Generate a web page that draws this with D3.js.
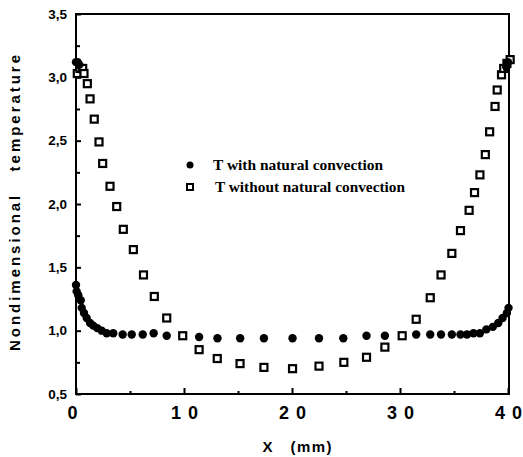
<!DOCTYPE html>
<html><head><meta charset="utf-8">
<script src="https://cdn.jsdelivr.net/npm/d3@7"></script>
<style>body{margin:0;background:#fff}svg{display:block}</style>
</head><body>
<script>
// Data
const withConvX = [0,0.15,0.3,0,0.06,0.21,0.44,0.53,0.74,0.99,1.3,1.6,1.97,2.38,2.84,3.45,4.32,5.16,6.18,7.19,8.4,11.4,13.1,15.2,17.4,20.05,22.5,24.75,26.9,28.6,31.5,32.8,33.8,34.8,35.6,36.2,36.8,37.4,38.0,38.6,39.1,39.5,39.9,40.05,39.85,40.0];
const withConvY = [3.12,3.12,3.10,1.36,1.31,1.28,1.24,1.18,1.14,1.10,1.06,1.04,1.02,1.00,0.98,0.98,0.97,0.97,0.97,0.98,0.96,0.95,0.94,0.94,0.94,0.94,0.94,0.94,0.96,0.96,0.97,0.97,0.97,0.97,0.97,0.97,0.98,0.98,1.01,1.03,1.06,1.10,1.14,1.18,3.08,3.12];
const withoutConvX = [0.12,0.37,0.62,0.74,1.05,1.3,1.69,2.13,2.47,3.15,3.77,4.38,5.31,6.25,7.25,8.4,9.88,11.4,13.08,15.19,17.4,20.05,22.5,24.8,26.9,28.6,30.2,31.5,32.8,33.8,34.8,35.6,36.4,36.9,37.4,37.9,38.3,38.8,39.0,39.4,39.6,39.9,40.2];
const withoutConvY = [3.03,3.07,3.07,3.03,2.95,2.83,2.67,2.49,2.32,2.14,1.98,1.80,1.64,1.44,1.27,1.10,0.96,0.85,0.78,0.74,0.71,0.70,0.72,0.75,0.79,0.87,0.96,1.09,1.26,1.44,1.61,1.79,1.95,2.09,2.23,2.39,2.57,2.77,2.90,3.02,3.07,3.11,3.14];
const xMajorTicks = [0,10,20,30,40];
const xMinorTicks = [5,15,25,35];
const yMajorTicks = [0.5,1.0,1.5,2.0,2.5,3.0,3.5];
const yMinorTicks = [0.75,1.25,1.75,2.25,2.75,3.25];
const legendLabels = ["T with natural convection","T without natural convection"];
const xTitle = "X   (mm)";
const yTitle = "Nondimensional   temperature";

const W = 523, H = 457;
const svg = d3.select("body").append("svg").attr("width", W).attr("height", H);
const x = d3.scaleLinear().domain([0,40]).range([76,508]);
const y = d3.scaleLinear().domain([0.5,3.5]).range([394,14]);
const sans = "'Liberation Sans', Arial, sans-serif";
const serif = "'Liberation Serif', 'Times New Roman', serif";

// frame
svg.append("rect").attr("x", x(0)).attr("y", y(3.5)).attr("width", x(40)-x(0)+1).attr("height", y(0.5)-y(3.5))
  .attr("fill","none").attr("stroke","#000").attr("stroke-width",2);

// x axis
const gx = svg.append("g").attr("transform",`translate(0,${y(0.5)})`);
gx.call(d3.axisBottom(x).tickValues(xMajorTicks).tickSize(-6).tickPadding(12).tickFormat(d => String(d).split("").join("\u2009\u2009")));
const gx2 = svg.append("g").attr("transform",`translate(0,${y(0.5)})`);
gx2.call(d3.axisBottom(x).tickValues(xMinorTicks).tickSize(-3).tickFormat(""));
[gx,gx2].forEach(g => { g.select(".domain").remove(); g.selectAll("line").attr("stroke","#000").attr("stroke-width",2); });
gx.selectAll("text").attr("font-family",sans).attr("font-weight","bold").attr("font-size",18).attr("fill","#000");
gx.selectAll(".tick").filter(d => d===0).select("text").attr("dx",-4);

// y axis
const gy = svg.append("g").attr("transform",`translate(${x(0)},0)`);
gy.call(d3.axisLeft(y).tickValues(yMajorTicks).tickSize(-5).tickPadding(9).tickFormat(d => d3.format(".1f")(d).replace(".",",")));
const gy2 = svg.append("g").attr("transform",`translate(${x(0)},0)`);
gy2.call(d3.axisLeft(y).tickValues(yMinorTicks).tickSize(-4).tickFormat(""));
[gy,gy2].forEach(g => { g.select(".domain").remove(); g.selectAll("line").attr("stroke","#000").attr("stroke-width",2); });
gy.selectAll("text").attr("font-family",sans).attr("font-weight","bold").attr("font-size",13.5).attr("fill","#000");

// titles
svg.append("text").attr("x",297).attr("y",452).attr("text-anchor","middle")
  .attr("font-family",sans).attr("font-weight","bold").attr("font-size",15).attr("textLength",69).attr("lengthAdjust","spacing")
  .style("white-space","pre").text(xTitle);
svg.append("text").attr("transform","translate(20,203) rotate(-90)").attr("text-anchor","middle")
  .attr("font-family",sans).attr("font-weight","bold").attr("font-size",15).attr("textLength",296).attr("lengthAdjust","spacing")
  .style("white-space","pre").text(yTitle);

// series: without (squares)
svg.append("g").selectAll("rect").data(withoutConvX.map((d,i)=>[d,withoutConvY[i]])).join("rect")
  .attr("x",d=>x(d[0])-3.5).attr("y",d=>y(d[1])-3.5).attr("width",7).attr("height",7)
  .attr("fill","#fff").attr("stroke","#000").attr("stroke-width",2.2);
// with (filled circles)
svg.append("g").selectAll("circle").data(withConvX.map((d,i)=>[d,withConvY[i]])).join("circle")
  .attr("cx",d=>x(d[0])).attr("cy",d=>y(d[1])).attr("r",4.2).attr("fill","#000");

// legend
svg.append("circle").attr("cx",190).attr("cy",165).attr("r",3.5).attr("fill","#000");
svg.append("rect").attr("x",187).attr("y",184).attr("width",6).attr("height",6).attr("fill","#fff").attr("stroke","#000").attr("stroke-width",2);
svg.append("text").attr("x",213).attr("y",170).attr("font-family",serif).attr("font-weight","bold").attr("font-size",14)
  .attr("textLength",170).attr("lengthAdjust","spacingAndGlyphs").text(legendLabels[0]);
svg.append("text").attr("x",215).attr("y",192).attr("font-family",serif).attr("font-weight","bold").attr("font-size",14)
  .attr("textLength",190).attr("lengthAdjust","spacingAndGlyphs").text(legendLabels[1]);
</script>
</body></html>
